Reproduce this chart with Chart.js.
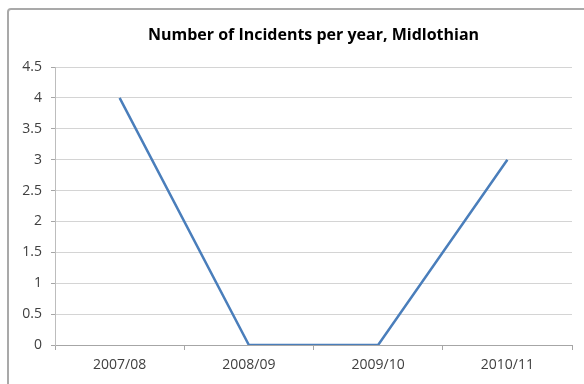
<!DOCTYPE html>
<html>
<head>
<meta charset="utf-8">
<script src="https://cdn.jsdelivr.net/npm/chart.js@4.4.1/dist/chart.umd.min.js"></script>
<style>
  html, body { margin: 0; padding: 0; background: #ffffff; }
  #wrap { position: relative; width: 584px; height: 384px; overflow: hidden; }
  #frame {
    position: absolute; left: 7px; top: 8px; width: 700px; height: 500px;
    border: 2px solid #a9a9a9; border-radius: 4px; box-sizing: border-box;
  }
  canvas { position: absolute; left: 0; top: 0; }
</style>
</head>
<body>
<div id="wrap">
  <div id="frame"></div>
  <canvas id="chart" width="584" height="384"></canvas>
</div>
<script>
// Incidents recorded per financial year
const years = ['2007/08', '2008/09', '2009/10', '2010/11'];
const incidents = [4, 0, 0, 3];
const yTicks = [0, 0.5, 1, 1.5, 2, 2.5, 3, 3.5, 4, 4.5];

const FONT = '"Open Sans", Lato, sans-serif';

new Chart(document.getElementById('chart'), {
  type: 'line',
  data: {
    labels: years,
    datasets: [{
      label: 'Incidents',
      data: incidents,
      borderColor: '#4a7ebb',
      borderWidth: 2.5,
      pointRadius: 0,
      tension: 0,
      fill: false
    }]
  },
  options: {
    responsive: false,
    animation: false,
    layout: { padding: { left: 0, right: 12, top: 0, bottom: 0 } },
    plugins: {
      legend: { display: false },
      tooltip: { enabled: false },
      title: {
        display: true,
        fullSize: false,
        text: 'Number of Incidents per year, Midlothian',
        color: '#000000',
        font: { family: FONT, size: 16, weight: 'bold', lineHeight: 1.2 },
        padding: { top: 26, bottom: 21.8 }
      }
    },
    scales: {
      x: {
        type: 'category',
        offset: true,
        grid: {
          offset: true,
          drawOnChartArea: false,
          drawTicks: true,
          tickLength: 5,
          tickColor: '#a6a6a6'
        },
        border: { display: true, color: '#a6a6a6', width: 1 },
        ticks: {
          color: '#404040',
          font: { family: FONT, size: 14 },
          padding: 7,
          maxRotation: 0
        },
        afterFit: (scale) => { scale.height = 39; }
      },
      y: {
        min: 0,
        max: 4.5,
        afterBuildTicks: (scale) => { scale.ticks = yTicks.map(v => ({ value: v })); },
        grid: {
          color: '#d4d4d4',
          drawTicks: true,
          tickLength: 4,
          tickColor: '#a6a6a6'
        },
        border: { display: true, color: '#bdbdbd', width: 1 },
        ticks: {
          color: '#404040',
          font: { family: FONT, size: 14 },
          padding: 9,
          callback: (v) => String(v)
        },
        afterFit: (scale) => { scale.width = 55; }
      }
    }
  }
});
</script>
</body>
</html>
